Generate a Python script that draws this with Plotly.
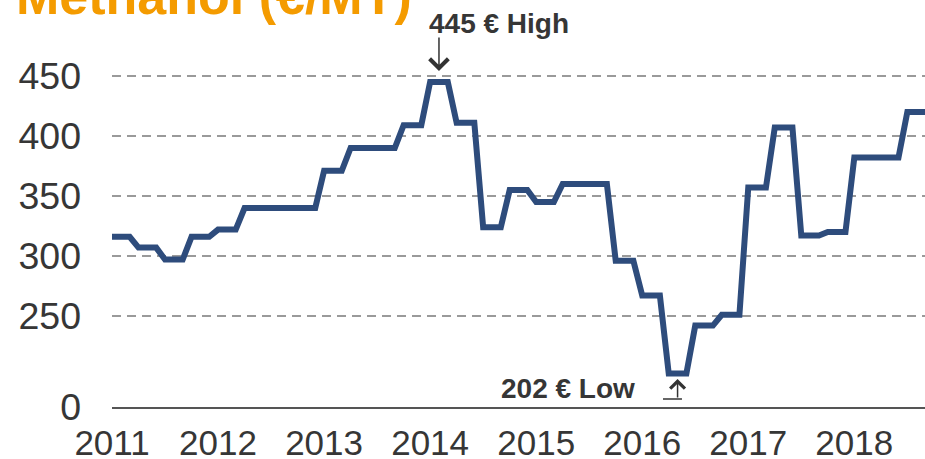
import plotly.graph_objects as go

# Monthly Methanol contract price (EUR/MT), Jan 2011 - Sep 2018 (quarterly steps)
months = [f"{y}-{m:02d}" for y in range(2011, 2019) for m in range(1, 13)][:93]
prices = [
    316, 316, 316, 307, 307, 307, 297, 297, 297, 316, 316, 316,   # 2011
    322, 322, 322, 340, 340, 340, 340, 340, 340, 340, 340, 340,   # 2012
    371, 371, 371, 390, 390, 390, 390, 390, 390, 409, 409, 409,   # 2013
    445, 445, 445, 411, 411, 411, 324, 324, 324, 355, 355, 355,   # 2014
    345, 345, 345, 360, 360, 360, 360, 360, 360, 296, 296, 296,   # 2015
    267, 267, 267, 202, 202, 202, 242, 242, 242, 251, 251, 251,   # 2016
    357, 357, 357, 407, 407, 407, 317, 317, 317, 320, 320, 320,   # 2017
    382, 382, 382, 382, 382, 382, 420, 420, 420,                  # 2018
]
year_labels = ["2011", "2012", "2013", "2014", "2015", "2016", "2017", "2018"]
year_ticks = [12 * i for i in range(len(year_labels))]

y_bottom = 174.17   # broken axis: bottom labelled "0"
y_top = 513.33
y_tickvals = [y_bottom, 250, 300, 350, 400, 450]
y_ticktext = ["0", "250", "300", "350", "400", "450"]

high_idx, high_val = 37, 445
low_idx, low_val = 64, 202

FONT = "Liberation Sans, Arial, sans-serif"
TXT = "#363636"

fig = go.Figure()
fig.add_trace(go.Scatter(
    x=list(range(len(prices))), y=prices, mode="lines",
    line=dict(color="#2E4C7C", width=6),
    hoverinfo="skip", showlegend=False,
))

fig.update_layout(
    width=925, height=459,
    margin=dict(l=112, r=0, t=0, b=52, autoexpand=False),
    plot_bgcolor="white", paper_bgcolor="white",
    font=dict(family=FONT, color=TXT),
    xaxis=dict(
        range=[0, len(prices) - 1], showgrid=False, zeroline=False,
        showline=True, linecolor="#555555", linewidth=2, automargin=False,
        tickvals=year_ticks, ticktext=year_labels, ticks="",
        tickfont=dict(size=35, color=TXT, family=FONT),
        ticklabelstandoff=4,
    ),
    yaxis=dict(
        range=[y_bottom, y_top], showgrid=True, gridcolor="#9A9A9A",
        gridwidth=2, griddash="9px,6px", zeroline=False, showline=False,
        automargin=False,
        tickvals=y_tickvals, ticktext=y_ticktext, ticks="",
        tickfont=dict(size=37.5, color=TXT, family=FONT),
        ticklabelstandoff=30,
    ),
)

annotations = [
    dict(text="<b>Methanol (€/MT)</b>", xref="paper", yref="paper",
         x=-0.1205, y=0.934, xanchor="left", yanchor="bottom", showarrow=False,
         font=dict(size=52, color="#F49B00", family=FONT)),
    dict(text="<b>445 € High</b>", xref="paper", yref="paper",
         x=0.4754, y=0.9, xanchor="center", yanchor="bottom", showarrow=False,
         font=dict(size=28, color=TXT, family=FONT)),
    dict(text="<b>202 € Low</b>", xref="paper", yref="paper",
         x=0.5603, y=0.002, xanchor="center", yanchor="bottom", showarrow=False,
         font=dict(size=28, color=TXT, family=FONT)),
    dict(text="", x=high_idx, y=high_val, xref="x", yref="y",
         showarrow=True, ax=0, ay=-46, arrowhead=4, arrowsize=2.4,
         arrowwidth=1.5, arrowcolor="#333333", standoff=11),
    dict(text="", x=low_idx, y=low_val, xref="x", yref="y",
         showarrow=True, ax=0, ay=25.4, arrowhead=4, arrowsize=1.9,
         arrowwidth=1.5, arrowcolor="#333333", standoff=5.4),
]
fig.update_layout(annotations=annotations)

fig.add_shape(type="line", xref="x", yref="y", xsizemode="pixel", ysizemode="pixel",
              xanchor=low_idx, yanchor=low_val, x0=-14.6, x1=4.4, y0=-25.4, y1=-25.4,
              line=dict(color="#333333", width=1.5))

fig.write_html("out.html")
